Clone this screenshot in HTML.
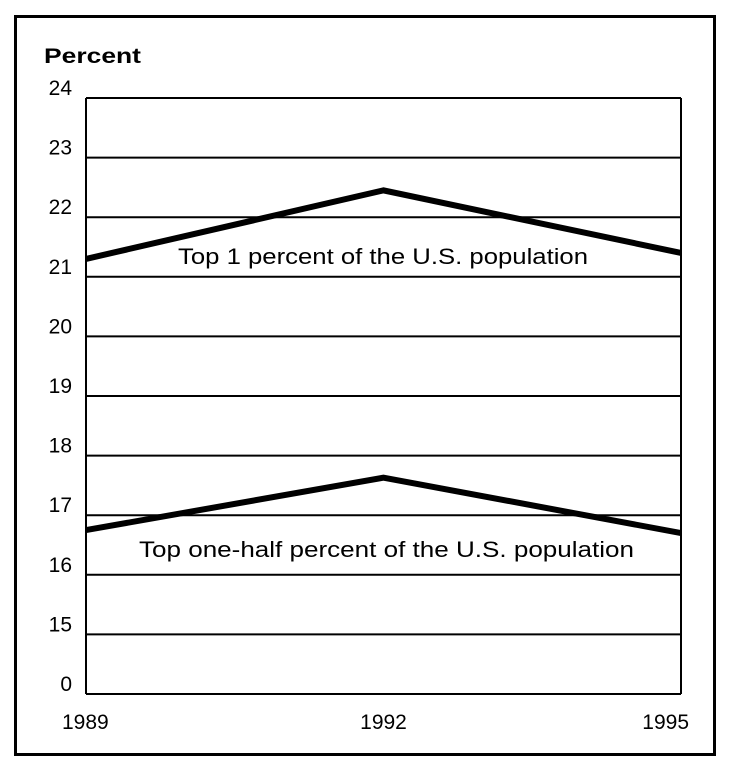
<!DOCTYPE html>
<html><head><meta charset="utf-8"><style>
body{margin:0;background:#fff;}
svg text{font-family:"Liberation Sans",Arial,sans-serif;fill:#000;}
</style></head><body>
<svg width="730" height="768">
<rect x="15.5" y="16.5" width="699" height="738" fill="none" stroke="#000" stroke-width="3"/>
<text x="44" y="63" font-size="21" font-weight="bold" textLength="97" lengthAdjust="spacingAndGlyphs">Percent</text>
<g id="grid"></g><g id="series"></g><g id="labels"></g>
</svg>
<script>
const yTicks=[0,15,16,17,18,19,20,21,22,23,24];
const years=["1989","1992","1995"];
const top1=[21.3,22.45,21.4];
const topHalf=[16.75,17.63,16.7];
const seriesNames=["Top 1 percent of the U.S. population","Top one-half percent of the U.S. population"];
const L=86,R=681,T=98,B=694;
const NS="http://www.w3.org/2000/svg";
function x(i){return L+(R-L)*i/(years.length-1);}
function y(v){
  const step=(B-T)/(yTicks.length-1);
  if(v<=yTicks[1]) return B-step*(v/yTicks[1]);
  return B-step*(1+(v-yTicks[1]));
}
function mk(tag,attrs,parent){const e=document.createElementNS(NS,tag);for(const k in attrs)e.setAttribute(k,attrs[k]);document.getElementById(parent).appendChild(e);return e;}
yTicks.forEach((t,i)=>{
  const yy=y(t);
  const ln=mk('line',{x1:L,x2:R,y1:yy,y2:yy,stroke:'#000','stroke-width':2},'grid');
  
  
  const tx=mk('text',{x:72,y:yy-3,'text-anchor':'end','font-size':21},'grid');
  tx.textContent=t;
  
  
});
const la=mk('line',{x1:L,x2:L,y1:T,y2:B,stroke:'#000','stroke-width':2},'grid');


const ra=mk('line',{x1:R,x2:R,y1:T,y2:B,stroke:'#000','stroke-width':2},'grid');


years.forEach((yr,i)=>{
  const tx=mk('text',{x:x(i),y:729,'text-anchor':i==0?'start':i==years.length-1?'end':'middle','font-size':21},'labels');
  if(i==0)tx.setAttribute('x',x(i)-24);
  if(i==years.length-1)tx.setAttribute('x',x(i)+8);
  tx.textContent=yr;
  
  
});
[top1,topHalf].forEach((s,si)=>{
  const pts=s.map((v,i)=>x(i)+','+y(v)).join(' ');
  const pl=mk('polyline',{points:pts,fill:'none',stroke:'#000','stroke-width':6,'stroke-linejoin':'miter'},'series');
  
  
});
const l1=mk('text',{x:178,y:y(top1[0])+5,'font-size':22,textLength:410,lengthAdjust:'spacingAndGlyphs'},'labels');
l1.textContent=seriesNames[0];


const l2=mk('text',{x:139,y:y(topHalf[0])+27,'font-size':22,textLength:495,lengthAdjust:'spacingAndGlyphs'},'labels');
l2.textContent=seriesNames[1];


</script>
</body></html>
